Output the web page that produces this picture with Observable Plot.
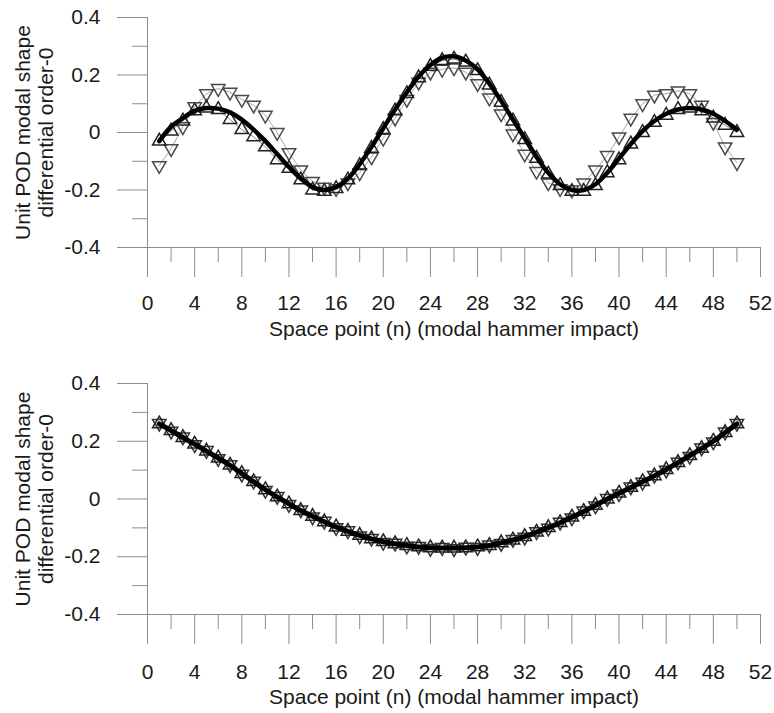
<!DOCTYPE html>
<html>
<head>
<meta charset="utf-8">
<script src="https://cdn.jsdelivr.net/npm/d3@7"></script>
<script src="https://cdn.jsdelivr.net/npm/@observablehq/plot@0.6"></script>
<style>
  html, body { margin: 0; padding: 0; background: #fff; }
  #wrap svg { display: block; }
</style>
</head>
<body>
<div id="wrap"></div>
<script>
// ---- data ----
const points = [1,2,3,4,5,6,7,8,9,10,11,12,13,14,15,16,17,18,19,20,21,22,23,24,25,
  26,27,28,29,30,31,32,33,34,35,36,37,38,39,40,41,42,43,44,45,46,47,48,49,50];

// top panel
const topUp = [-0.03,0.005,0.04,0.075,0.085,0.08,0.045,0.01,-0.015,-0.05,
  -0.095,-0.125,-0.165,-0.2,-0.205,-0.195,-0.165,-0.115,-0.055,0.01,
  0.075,0.135,0.19,0.23,0.25,0.255,0.245,0.215,0.165,0.105,
  0.04,-0.025,-0.09,-0.145,-0.185,-0.205,-0.205,-0.185,-0.14,-0.095,
  -0.04,0.0,0.035,0.06,0.08,0.085,0.075,0.05,0.025,0.0];
const topDown = [-0.115,-0.056,0.02,0.09,0.135,0.153,0.14,0.115,0.095,0.06,
  0.0,-0.07,-0.13,-0.17,-0.19,-0.195,-0.175,-0.14,-0.085,-0.02,
  0.05,0.115,0.175,0.21,0.22,0.225,0.21,0.17,0.12,0.065,
  -0.005,-0.075,-0.135,-0.175,-0.195,-0.2,-0.175,-0.13,-0.08,-0.015,
  0.05,0.1,0.13,0.135,0.145,0.135,0.095,0.035,-0.05,-0.105];
const topFit = [-0.03,0.02,0.05,0.075,0.085,0.083,0.07,0.045,0.01,-0.03,
  -0.075,-0.12,-0.16,-0.19,-0.2,-0.19,-0.16,-0.11,-0.05,0.015,
  0.08,0.14,0.195,0.235,0.26,0.265,0.25,0.22,0.17,0.11,
  0.045,-0.02,-0.085,-0.14,-0.18,-0.2,-0.2,-0.18,-0.14,-0.09,
  -0.04,0.005,0.04,0.065,0.08,0.085,0.08,0.065,0.04,0.01];

// bottom panel
const botUp = [0.26,0.237,0.213,0.19,0.166,0.142,0.117,0.088,0.06,0.032,
  0.007,-0.017,-0.04,-0.06,-0.079,-0.097,-0.112,-0.126,-0.138,-0.148,
  -0.155,-0.161,-0.166,-0.169,-0.17,-0.17,-0.169,-0.166,-0.161,-0.152,
  -0.142,-0.13,-0.115,-0.099,-0.082,-0.063,-0.043,-0.022,0.0,0.02,
  0.04,0.06,0.08,0.102,0.126,0.15,0.175,0.2,0.23,0.26];
const botDown = [0.262,0.235,0.215,0.188,0.168,0.14,0.119,0.086,0.062,0.03,
  0.009,-0.019,-0.038,-0.062,-0.077,-0.099,-0.11,-0.128,-0.136,-0.15,
  -0.153,-0.163,-0.164,-0.171,-0.168,-0.172,-0.167,-0.168,-0.159,-0.154,
  -0.14,-0.132,-0.113,-0.101,-0.08,-0.065,-0.041,-0.024,0.002,0.018,
  0.042,0.058,0.082,0.1,0.128,0.148,0.177,0.198,0.232,0.262];
const botFit = [0.26,0.237,0.213,0.19,0.166,0.142,0.117,0.088,0.06,0.032,
  0.007,-0.017,-0.04,-0.06,-0.079,-0.097,-0.112,-0.126,-0.138,-0.148,
  -0.155,-0.161,-0.166,-0.169,-0.17,-0.17,-0.169,-0.166,-0.161,-0.152,
  -0.142,-0.13,-0.115,-0.099,-0.082,-0.063,-0.043,-0.022,0.0,0.02,
  0.04,0.06,0.08,0.102,0.126,0.15,0.175,0.2,0.23,0.26];

// axes
const xMajor = [0,4,8,12,16,20,24,28,32,36,40,44,48,52];
const xMinor = [2,6,10,14,18,22,26,30,34,38,42,46,50];
const yMajor = [-0.4,-0.2,0,0.2,0.4];
const yMinor = [-0.3,-0.1,0.1,0.3];
const yTitle = "Unit POD modal shape\ndifferential order-0";
const xTitle = "Space point (n) (modal hammer impact)";

const AXIS = "#8c8c8c";
const TEXT = "#1a1a1a";
const FONT = "'Liberation Sans', Arial, Helvetica, sans-serif";
const FS = 21;

function panel({height, marginTop, marginBottom, up, down, fit, downStroke, thin, fitWidth, tickPad, titleDy}) {
  const rows = (vals) => points.map((p, i) => ({n: p, v: vals[i]}));
  const U = rows(up), D = rows(down), F = rows(fit);
  const marks = [];
  if (thin) {
    marks.push(Plot.line(D, {x: "n", y: "v", stroke: "#a8a8a8", strokeWidth: 1}));
    marks.push(Plot.line(U, {x: "n", y: "v", stroke: "#8a8a8a", strokeWidth: 1}));
  }
  marks.push(
    Plot.dot(D, {x: "n", y: "v", symbol: "triangle", rotate: 180, r: 5, fill: "none", stroke: downStroke, strokeWidth: 1.5}),
    Plot.dot(U, {x: "n", y: "v", symbol: "triangle", r: 5, fill: "none", stroke: "#222", strokeWidth: 1.5}),
    Plot.line(F, {x: "n", y: "v", stroke: "#000", strokeWidth: fitWidth, curve: "catmull-rom"}),
    // axes
    Plot.ruleX([0], {stroke: AXIS, strokeWidth: 1}),
    Plot.ruleY([-0.4], {stroke: AXIS, strokeWidth: 1}),
    Plot.axisY({ticks: yMajor, tickSize: 30, tickPadding: 17, stroke: AXIS, fill: TEXT, fontSize: FS,
      tickFormat: d => d === 0 ? "0" : d.toFixed(1), label: null}),
    Plot.axisY({ticks: yMinor, tickSize: 15, stroke: AXIS, tickFormat: () => "", label: null}),
    Plot.axisX({ticks: xMajor, tickSize: 30, tickPadding: tickPad, stroke: AXIS, fill: TEXT, fontSize: FS,
      tickFormat: d => String(d), label: null}),
    Plot.axisX({ticks: xMinor, tickSize: 15, stroke: AXIS, tickFormat: () => "", label: null}),
    Plot.text([yTitle], {frameAnchor: "left", dx: -113.5, rotate: -90, text: d => d,
      lineHeight: 1.1, fill: TEXT, fontSize: FS, textAnchor: "middle", lineAnchor: "middle"}),
    Plot.text([xTitle], {frameAnchor: "bottom", dy: titleDy, text: d => d,
      fill: TEXT, fontSize: FS, textAnchor: "middle", lineAnchor: "middle"})
  );
  return Plot.plot({
    width: 774,
    height,
    marginTop,
    marginBottom,
    marginLeft: 147,
    marginRight: 14,
    x: {domain: [0, 52]},
    y: {domain: [-0.4, 0.4]},
    style: {fontFamily: FONT, fontSize: FS + "px", color: TEXT, background: "#fff", overflow: "visible"},
    marks
  });
}

const wrap = document.getElementById("wrap");
wrap.appendChild(panel({height: 345, marginTop: 17, marginBottom: 98,
  up: topUp, down: topDown, fit: topFit, downStroke: "#4a4a4a", thin: true, fitWidth: 4.5, tickPad: 18, titleDy: 82}));
wrap.appendChild(panel({height: 368, marginTop: 38, marginBottom: 99,
  up: botUp, down: botDown, fit: botFit, downStroke: "#333", thin: false, fitWidth: 5, tickPad: 20, titleDy: 83}));
</script>
</body>
</html>
